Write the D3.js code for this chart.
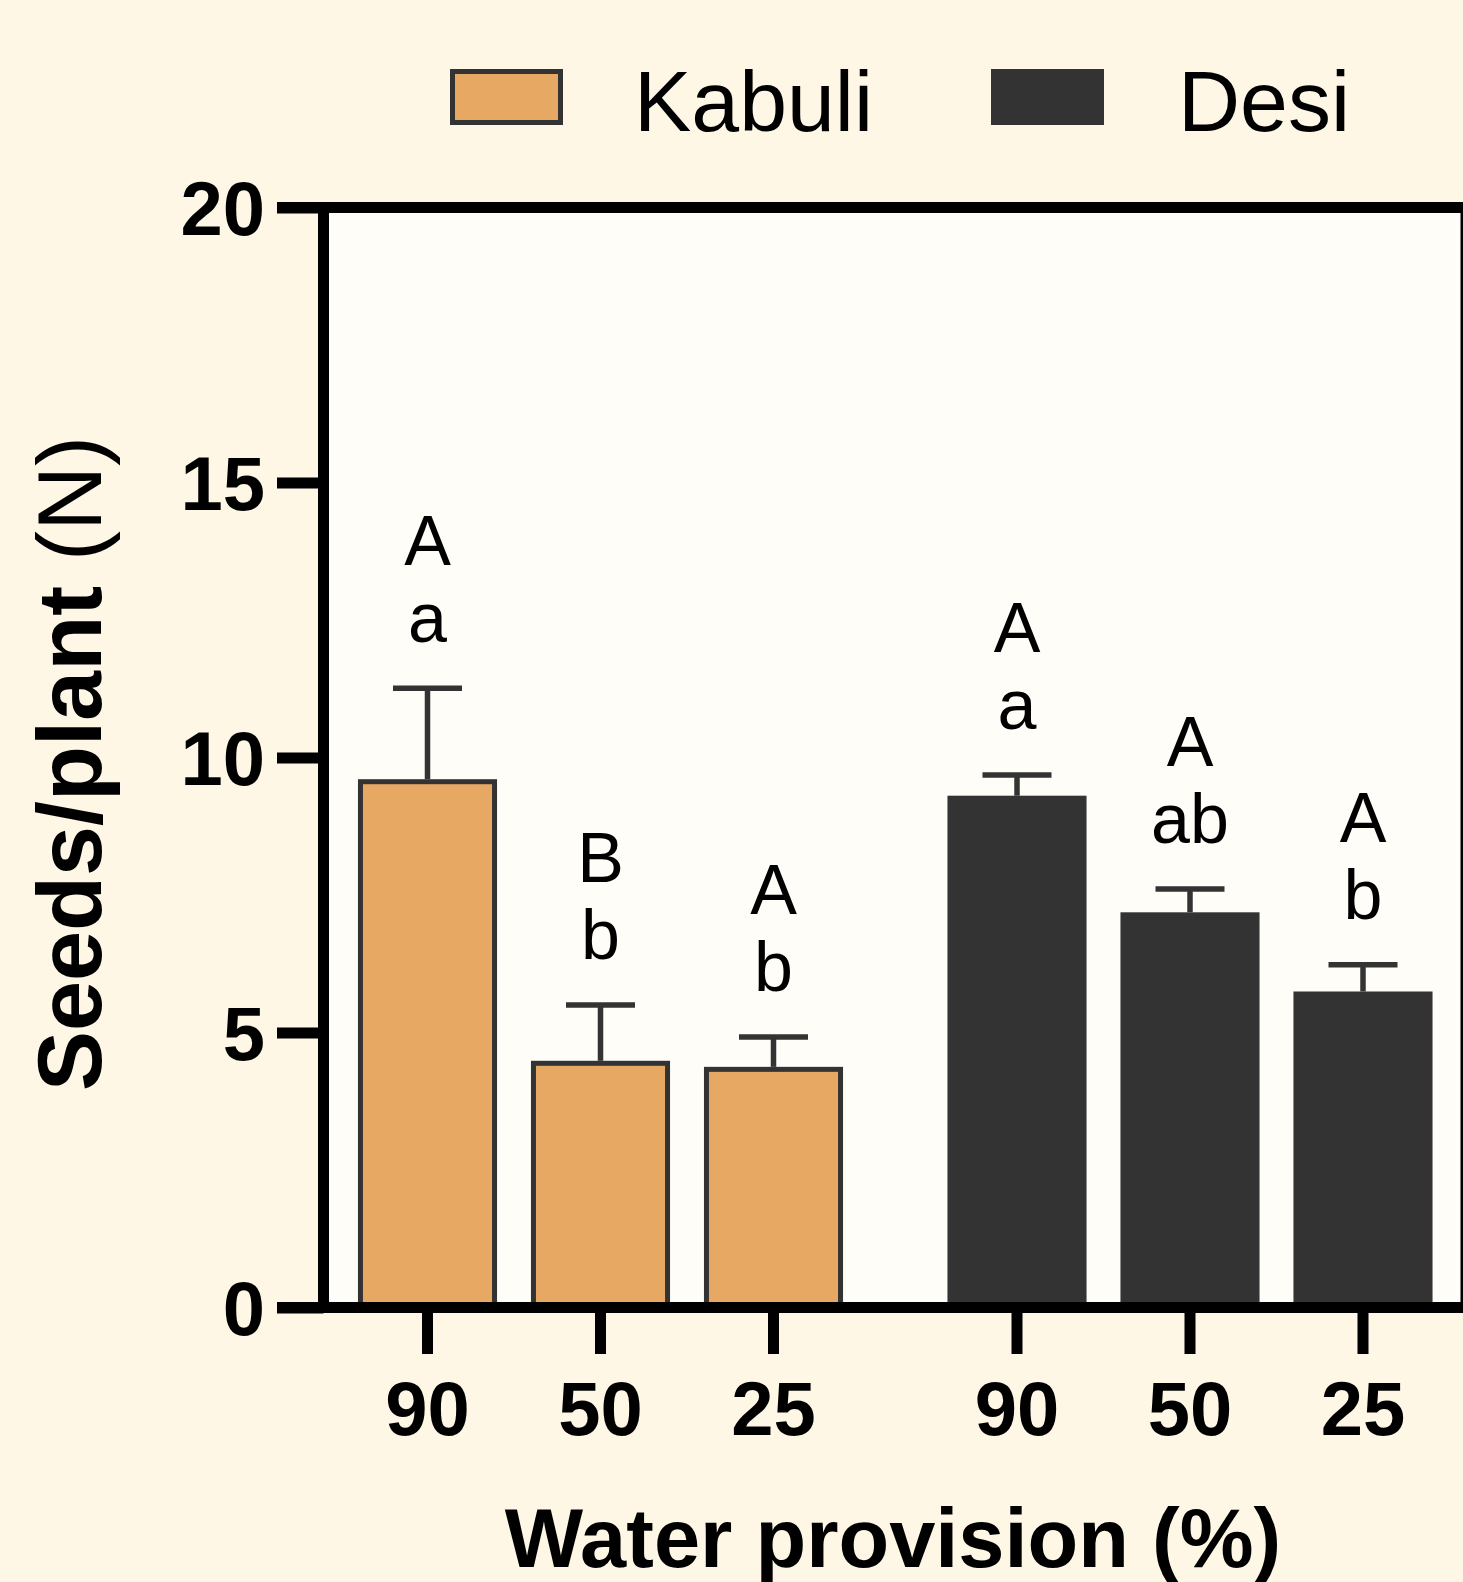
<!DOCTYPE html>
<html>
<head>
<meta charset="utf-8">
<script src="https://cdn.jsdelivr.net/npm/d3@7"></script>
<style>
  html, body { margin: 0; padding: 0; background: #fff7e5; }
  svg { display: block; }
</style>
</head>
<body>
<svg id="chart"></svg>
<script>
// chart values
const groups = ["Kabuli", "Desi"];
const levels = ["90", "50", "25"];
const kabuliMeans = [9.56, 4.44, 4.33];
const kabuliErr = [1.70, 1.06, 0.59];
const desiMeans = [9.26, 7.14, 5.70];
const desiErr = [0.42, 0.47, 0.53];
const kabuliUpper = ["A", "B", "A"];
const kabuliLower = ["a", "b", "b"];
const desiUpper = ["A", "A", "A"];
const desiLower = ["a", "ab", "b"];
const yTicks = [0, 5, 10, 15, 20];

const colors = {Kabuli: "#e6a862", Desi: "#333333"};

const width = 1463, height = 1582;
const margin = {top: 207.5, right: 1, bottom: 274.5, left: 323.5};

const rows = [];
groups.forEach(g => {
  const means = g === "Kabuli" ? kabuliMeans : desiMeans;
  const errs = g === "Kabuli" ? kabuliErr : desiErr;
  const up = g === "Kabuli" ? kabuliUpper : desiUpper;
  const lo = g === "Kabuli" ? kabuliLower : desiLower;
  levels.forEach((l, i) => rows.push({group: g, level: l, value: means[i], err: errs[i], upper: up[i], lower: lo[i]}));
});

const svg = d3.select("#chart")
    .attr("width", width)
    .attr("height", height)
    .style("font-family", "'Liberation Sans', Arial, sans-serif");

const y = d3.scaleLinear([0, 20], [height - margin.bottom, margin.top]);
const x0 = d3.scaleBand(groups, [341, 1449.5]).paddingInner(0.1196).paddingOuter(0);
const x1 = d3.scaleBand(levels, [0, x0.bandwidth()]).paddingInner(0.225).paddingOuter(0.1125);
const cx = d => x0(d.group) + x1(d.level) + x1.bandwidth() / 2;

// plot area
svg.append("rect")
    .attr("x", margin.left)
    .attr("y", margin.top)
    .attr("width", width - margin.left)
    .attr("height", y(0) - margin.top)
    .attr("fill", "#fffdf8");

// bars
svg.append("g")
  .selectAll("rect")
  .data(rows)
  .join("rect")
    .attr("x", d => x0(d.group) + x1(d.level))
    .attr("y", d => y(d.value))
    .attr("width", x1.bandwidth())
    .attr("height", d => y(0) - y(d.value))
    .attr("fill", d => colors[d.group])
    .attr("stroke", "#333")
    .attr("stroke-width", 5);

// error bars
const eb = svg.append("g")
    .attr("stroke", "#333")
    .attr("stroke-width", 5.5)
  .selectAll("g")
  .data(rows)
  .join("g");
eb.append("line")
    .attr("x1", cx).attr("x2", cx)
    .attr("y1", d => y(d.value) - 2.5)
    .attr("y2", d => y(d.value + d.err));
eb.append("line")
    .attr("x1", d => cx(d) - 34.5).attr("x2", d => cx(d) + 34.5)
    .attr("y1", d => y(d.value + d.err))
    .attr("y2", d => y(d.value + d.err));

// significance letters
const lab = svg.append("g")
    .attr("text-anchor", "middle")
    .attr("font-size", 70)
    .attr("fill", "#000")
  .selectAll("g")
  .data(rows)
  .join("g");
lab.append("text")
    .attr("x", cx)
    .attr("y", d => y(d.value + d.err) - 46)
    .text(d => d.lower);
lab.append("text")
    .attr("x", cx)
    .attr("y", d => y(d.value + d.err) - 123)
    .text(d => d.upper);

// y axis
const yAxis = svg.append("g")
    .attr("transform", `translate(${margin.left},0)`)
    .call(d3.axisLeft(y).tickValues(yTicks).tickSize(46.5).tickSizeOuter(0).tickPadding(12));
yAxis.select(".domain").remove();
yAxis.selectAll(".tick line").attr("stroke", "#000").attr("stroke-width", 11);
yAxis.selectAll(".tick text")
    .attr("font-size", 76)
    .attr("font-weight", "bold")
    .attr("font-family", "'Liberation Sans', Arial, sans-serif")
    .attr("fill", "#000")
    .attr("dy", "0.36em");

// x axis ticks
const xAxis = svg.append("g")
    .attr("transform", `translate(0,${y(0)})`);
xAxis.selectAll("line")
  .data(rows)
  .join("line")
    .attr("x1", cx).attr("x2", cx)
    .attr("y1", 0).attr("y2", 46.5)
    .attr("stroke", "#000")
    .attr("stroke-width", 11);
xAxis.selectAll("text")
  .data(rows)
  .join("text")
    .attr("x", cx)
    .attr("y", 127)
    .attr("text-anchor", "middle")
    .attr("font-size", 76)
    .attr("font-weight", "bold")
    .text(d => d.level);

// frame
const frame = svg.append("g").attr("stroke", "#000").attr("stroke-width", 11).attr("fill", "none");
frame.append("line").attr("x1", 277).attr("x2", width).attr("y1", y(20)).attr("y2", y(20));
frame.append("line").attr("x1", 277).attr("x2", width).attr("y1", y(0)).attr("y2", y(0));
frame.append("line").attr("x1", margin.left).attr("x2", margin.left).attr("y1", y(20) - 5.5).attr("y2", y(0) + 5.5);
frame.append("line").attr("x1", width + 3).attr("x2", width + 3).attr("y1", y(20)).attr("y2", y(0));

// axis titles
svg.append("text")
    .attr("transform", `translate(101,${(y(0) + y(20)) / 2 + 6}) rotate(-90)`)
    .attr("text-anchor", "middle")
    .attr("font-size", 90)
    .call(t => t.append("tspan").attr("font-weight", "bold").text("Seeds/plant "))
    .call(t => t.append("tspan").text("(N)"));

svg.append("text")
    .attr("x", 893)
    .attr("y", 1567)
    .attr("text-anchor", "middle")
    .attr("font-size", 83)
    .attr("font-weight", "bold")
    .text("Water provision (%)");

// legend
const legendX = [450, 991];
const legend = svg.append("g")
  .selectAll("g")
  .data(groups)
  .join("g")
    .attr("transform", (d, i) => `translate(${legendX[i]},69)`);
legend.append("rect")
    .attr("x", 2.5).attr("y", 2.5)
    .attr("width", 108).attr("height", 51)
    .attr("fill", d => colors[d])
    .attr("stroke", "#333")
    .attr("stroke-width", 5);
legend.append("text")
    .attr("x", (d, i) => i === 0 ? 184 : 187)
    .attr("y", 62)
    .attr("font-size", 86)
    .text(d => d);
</script>
</body>
</html>
